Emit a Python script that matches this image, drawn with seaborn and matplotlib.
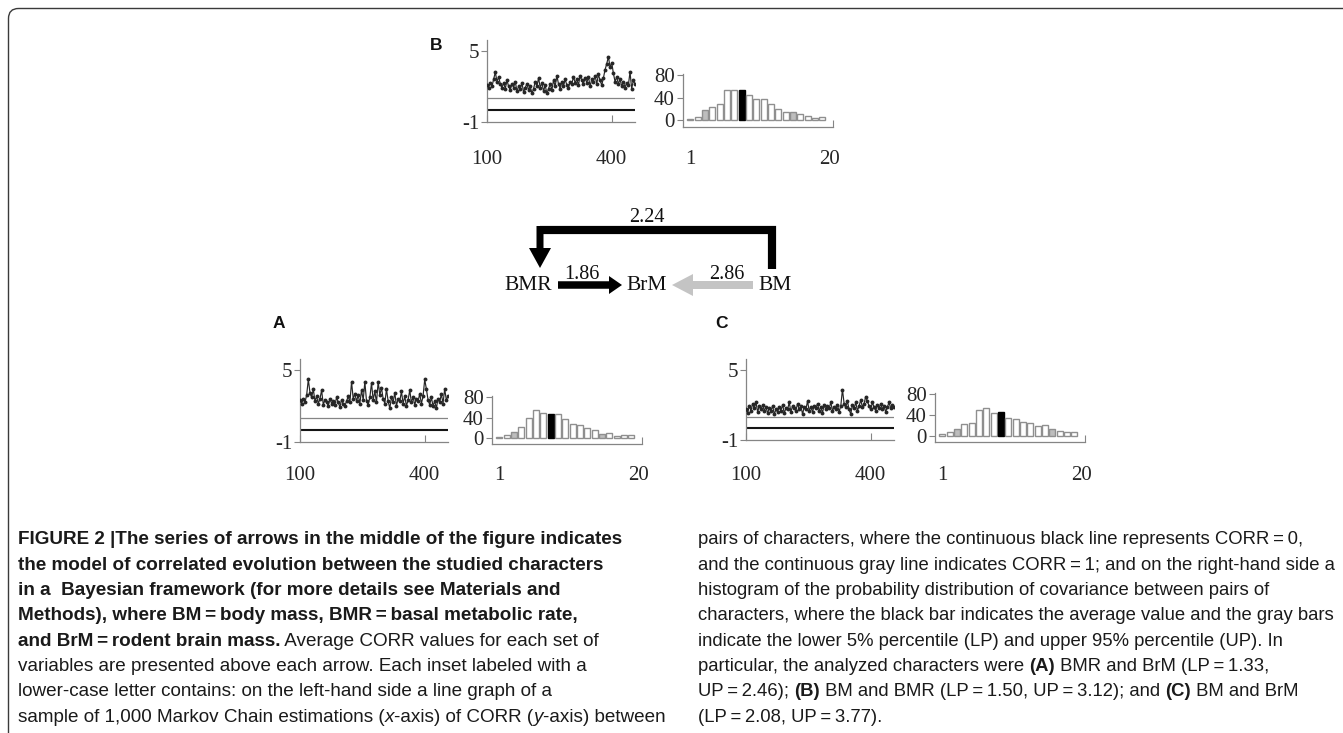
import matplotlib
matplotlib.use('Agg')
import matplotlib.pyplot as plt
from matplotlib import font_manager
from matplotlib.patches import FancyArrow, FancyBboxPatch
import seaborn as sns
import pandas as pd

sns.set_theme(style='white')
plt.rcParams['font.family'] = ['Liberation Serif', 'DejaVu Serif']

W, H = 1343, 733

# markov chain sample index (x) and CORR estimates (y) for the left insets
iters = list(range(100, 460, 4))
corr_a = [2.5, 2.2, 2.6, 2.3, 2.9, 4.2, 3.1, 2.7, 3.4, 2.4,
          2.8, 2.2, 2.6, 3.3, 2.1, 2.5, 2.3, 2.0, 2.6, 2.2,
          2.4, 2.1, 2.7, 2.3, 1.9, 2.5, 2.2, 2.0, 2.4, 2.8,
          2.3, 4.0, 2.6, 3.0, 2.4, 2.9, 2.2, 3.3, 2.5, 4.0,
          2.4, 2.1, 2.7, 3.9, 2.5, 3.2, 2.3, 4.0, 2.9, 3.5,
          2.6, 2.2, 3.4, 2.4, 1.8, 2.7, 2.3, 3.1, 2.0, 2.6,
          2.4, 3.2, 2.2, 2.8, 2.0, 2.5, 3.3, 2.3, 2.7, 2.1,
          2.6, 2.4, 3.0, 2.2, 2.8, 4.2, 3.4, 2.5, 2.1, 2.7,
          2.0, 2.4, 1.8, 2.6, 2.3, 3.0, 2.2, 3.4, 2.5, 2.8]
corr_b = [2.1, 1.9, 2.3, 2.0, 2.6, 3.2, 2.4, 2.8, 2.2, 1.9,
          2.3, 1.8, 2.5, 2.0, 1.7, 2.2, 1.9, 2.4, 1.6, 2.0,
          1.8, 2.3, 1.5, 1.9, 2.2, 1.7, 2.0, 1.4, 1.8, 2.4,
          2.0, 2.7, 1.9, 2.3, 1.6, 2.1, 1.4, 1.8, 2.2, 1.7,
          2.5, 2.0, 2.9, 2.2, 1.8, 2.4, 2.0, 2.6, 2.1, 1.9,
          2.4, 2.2, 2.8, 2.3, 2.6, 2.1, 2.9, 2.5, 2.2, 2.7,
          2.3, 2.8, 2.0, 2.6, 2.4, 2.9, 2.2, 3.0, 2.5, 2.1,
          2.7, 3.4, 3.9, 4.5, 3.6, 4.0, 3.1, 2.4, 2.8, 2.2,
          2.6, 2.0, 2.4, 1.9, 2.3, 2.1, 3.2, 1.8, 2.5, 2.2]
corr_c = [1.6, 1.3, 1.9, 1.5, 2.1, 1.7, 2.2, 1.4, 1.9, 1.6,
          2.0, 1.5, 1.8, 1.3, 1.7, 1.5, 1.9, 1.2, 1.6, 1.4,
          1.8, 1.5, 2.0, 1.3, 1.7, 1.6, 2.2, 1.4, 1.9, 1.7,
          1.5, 2.1, 1.6, 1.9, 1.2, 1.8, 1.6, 2.3, 1.5, 1.8,
          1.4, 1.9, 1.7, 2.1, 1.5, 1.8, 1.3, 2.0, 1.6, 1.9,
          1.7, 2.2, 1.5, 1.8, 1.6, 2.0, 1.4, 1.9, 3.3, 2.1,
          1.8, 2.3, 1.6, 1.2, 2.0, 1.7, 2.2, 1.5, 1.9, 2.4,
          1.8, 2.1, 2.7, 2.3, 1.9, 1.6, 2.2, 1.8, 1.5, 2.0,
          1.7, 2.1, 1.6, 1.9, 1.4, 1.8, 2.2, 1.7, 2.0, 1.8]

# covariance histograms (20 bins)
bins = list(range(1, 21))
hist_a = [3, 6, 12, 22, 40, 55, 49, 47, 47, 37, 27, 26, 19, 15, 8, 9, 4, 6, 5, 0]
hist_b = [2, 5, 17, 24, 29, 53, 54, 54, 45, 37, 38, 28, 20, 14, 15, 10, 7, 4, 5, 0]
hist_c = [3, 8, 13, 23, 24, 49, 53, 44, 45, 35, 32, 27, 24, 19, 21, 14, 10, 7, 8, 0]
# bins holding lower 5% percentile, mean, upper 95% percentile
marks_a = (3, 8, 15)
marks_b = (3, 8, 15)
marks_c = (3, 9, 16)

GRAY = '#858585'

fig = plt.figure(figsize=(W / 100, H / 100), dpi=100)
fig.patch.set_facecolor('white')
ov = fig.add_axes([0, 0, 1, 1])
ov.set_xlim(0, W)
ov.set_ylim(H, 0)
ov.axis('off')


def px_axes(l, t, r, b):
    ax = fig.add_axes([l / W, 1 - b / H, (r - l) / W, (b - t) / H])
    ax.patch.set_alpha(0)
    return ax


def pad_pt(axis_y, label_y):
    return (label_y - axis_y - 11.5) * 0.72


def style_spines(ax):
    ax.spines[['top', 'right']].set_visible(False)
    for s in ('left', 'bottom'):
        ax.spines[s].set_color(GRAY)
        ax.spines[s].set_linewidth(0.9)


def chain_panel(box, values, label_y):
    l, t, r, b = box
    ax = px_axes(l, t, r, b)
    df = pd.DataFrame({'iter': iters, 'corr': values})
    ax.axhline(1, color=GRAY, lw=0.9, zorder=1)
    ax.axhline(0, color='#151515', lw=1.5, zorder=1)
    sns.lineplot(data=df, x='iter', y='corr', ax=ax, color='#262626', lw=0.85,
                 marker='o', markersize=2.8, markeredgewidth=0, zorder=3)
    ax.set_xlim(100, 456)
    ax.set_ylim(-1, 5.9)
    ax.set_yticks([-1, 5], ['-1', '5'])
    ax.set_xticks([100, 400], ['100', '400'])
    ax.tick_params(axis='y', direction='out', length=4, width=0.8, color=GRAY,
                   pad=1.5, labelsize=15, left=True)
    ax.tick_params(axis='x', direction='in', length=5, width=0.8, color=GRAY,
                   pad=pad_pt(b, label_y), labelsize=15, bottom=True)
    style_spines(ax)
    ax.set(xlabel='', ylabel='')


def hist_panel(box, counts, marks, label_y):
    l, t, r, b = box
    ax = px_axes(l, t, r, b)
    df = pd.DataFrame({'bin': bins, 'count': counts})
    sns.barplot(data=df, x='bin', y='count', native_scale=True, width=0.8,
                color='white', saturation=1, edgecolor='#8f8f8f', linewidth=1, ax=ax)
    lp, mean, up = marks
    for i, p in enumerate(ax.patches):
        if counts[i] == 0:
            p.set_visible(False)
        elif bins[i] == mean:
            p.set_facecolor('black')
            p.set_edgecolor('black')
        elif bins[i] in (lp, up):
            p.set_facecolor('#bdbdbd')
    ax.set_xlim(0, 20.46)
    ax.set_ylim(-12, 82)
    ax.set_yticks([0, 40, 80], ['0', '40', '80'])
    ax.set_xticks([1, 20], ['1', '20'])
    ax.set_xticks([20.44], minor=True)
    ax.tick_params(axis='y', direction='out', length=4.3, width=0.8, color=GRAY,
                   pad=1.5, labelsize=15, left=True)
    ax.tick_params(axis='x', which='major', length=0, pad=pad_pt(b, label_y),
                   labelsize=15)
    ax.tick_params(axis='x', which='minor', direction='in', length=5, width=0.8,
                   color=GRAY, bottom=True)
    style_spines(ax)
    ax.set(xlabel='', ylabel='')


# panel B (top), A (bottom left), C (bottom right)
chain_panel((487, 40, 635, 122), corr_b, 161.5)
hist_panel((683, 73.9, 833, 126.8), hist_b, marks_b, 161.5)
chain_panel((300, 359, 448, 442), corr_a, 477)
hist_panel((492, 396, 642, 444.2), hist_a, marks_a, 477)
chain_panel((746, 359, 894, 440), corr_c, 477)
hist_panel((935, 393, 1085, 442.3), hist_c, marks_c, 477)

for lab, x, y in [('B', 436, 45), ('A', 279, 324), ('C', 721, 323)]:
    ov.text(x, y, lab, family='Liberation Sans', weight='bold', fontsize=12.5,
            ha='center', va='center', color='#111')

# model of correlated evolution
ov.plot([772, 772, 540], [269, 230, 230], color='black', lw=5.9,
        solid_joinstyle='miter', solid_capstyle='butt')
ov.add_patch(FancyArrow(540, 226, 0, 42, width=7, head_width=22, head_length=20,
                        length_includes_head=True, color='black', lw=0))
ov.add_patch(FancyArrow(558, 285, 64, 0, width=7.5, head_width=18, head_length=13,
                        length_includes_head=True, color='black', lw=0))
ov.add_patch(FancyArrow(753, 285, -81, 0, width=8, head_width=22, head_length=21,
                        length_includes_head=True, color='#c4c4c4', lw=0))
for txt, x in [('BMR', 528), ('BrM', 647), ('BM', 775)]:
    ov.text(x, 289.5, txt, fontsize=15.5, ha='center', va='baseline', color='#111')
for txt, x, y in [('2.24', 647, 222), ('1.86', 582, 279), ('2.86', 727, 279)]:
    ov.text(x, y, txt, fontsize=14.5, ha='center', va='baseline', color='#111')

# frame
ov.add_patch(FancyBboxPatch((8.5, 8.5), 1345, 800, boxstyle='round,pad=0,rounding_size=10',
                            fill=False, ec='#3a3a3a', lw=1))

# caption
names = {f.name for f in font_manager.fontManager.ttflist}
CAP_FONT = 'Liberation Sans Narrow' if 'Liberation Sans Narrow' in names else 'Liberation Sans'
EQ = '\u2009=\u2009'

left_col = [
    [('FIGURE 2 |The series of arrows in the middle of the figure indicates', 'b')],
    [('the model of correlated evolution between the studied characters', 'b')],
    [('in a  Bayesian framework (for more details see Materials and', 'b')],
    [('Methods), where BM' + EQ + 'body mass, BMR' + EQ + 'basal metabolic rate,', 'b')],
    [('and BrM' + EQ + 'rodent brain mass.', 'b'), (' Average CORR values for each set of', 'r')],
    [('variables are presented above each arrow. Each inset labeled with a', 'r')],
    [('lower-case letter contains: on the left-hand side a line graph of a', 'r')],
    [('sample of 1,000 Markov Chain estimations (', 'r'), ('x', 'i'),
     ('-axis) of CORR (', 'r'), ('y', 'i'), ('-axis) between', 'r')],
]
right_col = [
    [('pairs of characters, where the continuous black line represents CORR' + EQ + '0,', 'r')],
    [('and the continuous gray line indicates CORR' + EQ + '1; and on the right-hand side a', 'r')],
    [('histogram of the probability distribution of covariance between pairs of', 'r')],
    [('characters, where the black bar indicates the average value and the gray bars', 'r')],
    [('indicate the lower 5% percentile (LP) and upper 95% percentile (UP). In', 'r')],
    [('particular, the analyzed characters were ', 'r'), ('(A)', 'b'),
     (' BMR and BrM (LP' + EQ + '1.33,', 'r')],
    [('UP' + EQ + '2.46); ', 'r'), ('(B)', 'b'), (' BM and BMR (LP' + EQ + '1.50, UP' + EQ + '3.12); and ', 'r'),
     ('(C)', 'b'), (' BM and BrM', 'r')],
    [('(LP' + EQ + '2.08, UP' + EQ + '3.77).', 'r')],
]

renderer = fig.canvas.get_renderer()


def put(x, y, txt, style, size):
    kw = dict(fontsize=size, family=CAP_FONT, color='#1a1a1a', va='baseline', ha='left')
    if style == 'b':
        kw['weight'] = 'bold'
    if style == 'i':
        kw['style'] = 'italic'
    return ov.text(x, y, txt, **kw)


def fit_size(parts, target):
    probe = put(0, 0, ''.join(p[0] for p in parts), 'r', 10)
    size = 10 * target / probe.get_window_extent(renderer).width
    probe.remove()
    return size


def caption_line(x, y, parts, size):
    for txt, style in parts:
        t = put(x, y, txt, style, size)
        x += t.get_window_extent(renderer).width


left_size = fit_size(left_col[7], 652)
right_size = fit_size(right_col[1], 638)
for k, parts in enumerate(left_col):
    caption_line(18, 544.5 + 25.3 * k, parts, left_size)
for k, parts in enumerate(right_col):
    caption_line(698, 544.5 + 25.3 * k, parts, right_size)

fig.savefig('out.png', dpi=100, facecolor='white')
